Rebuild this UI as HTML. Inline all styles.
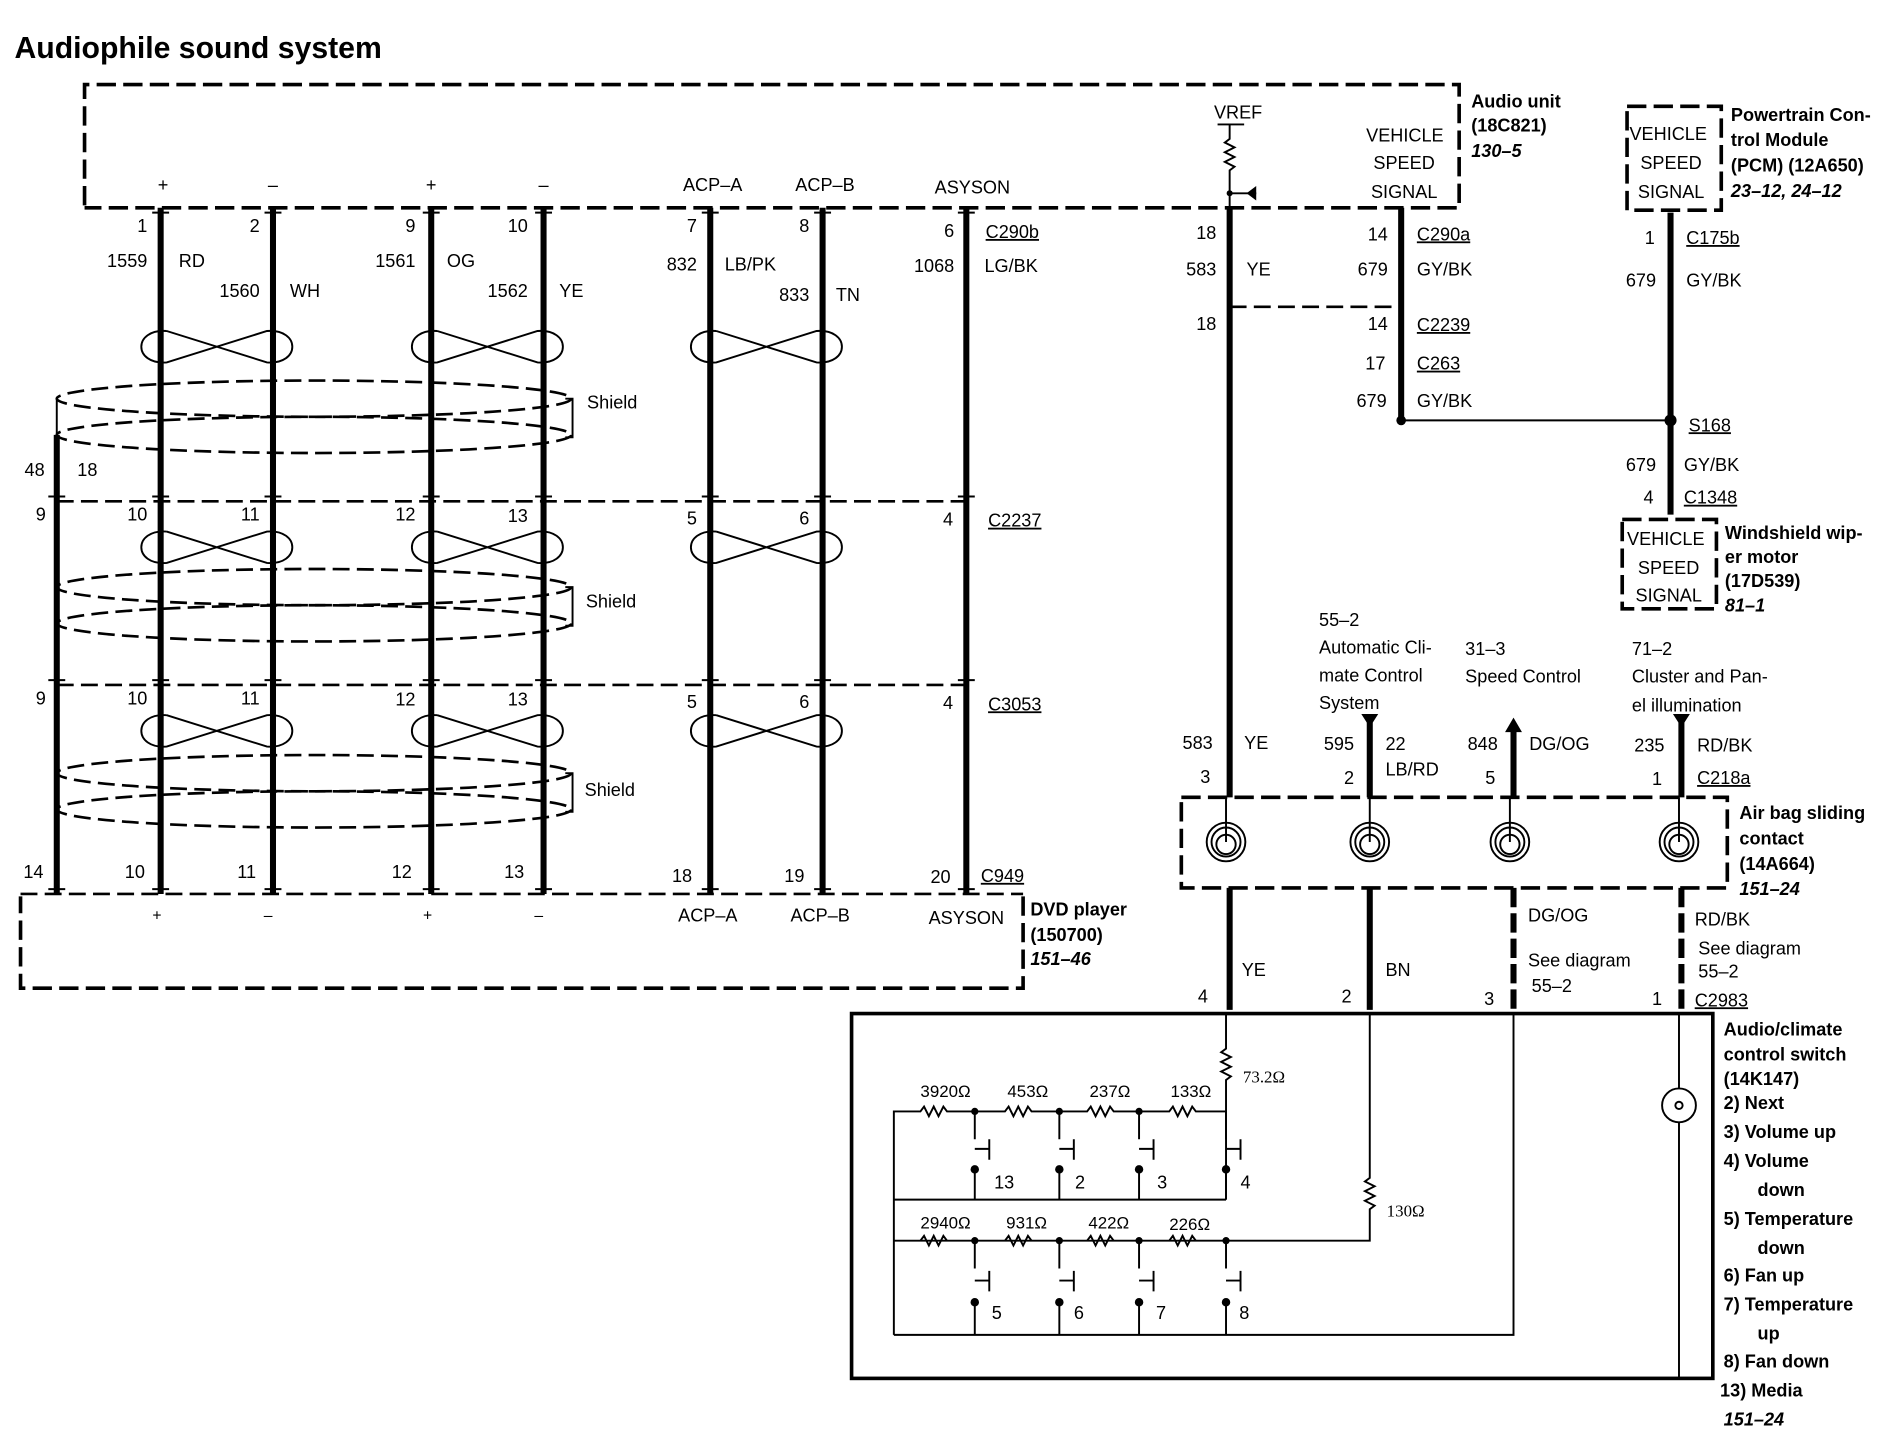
<!DOCTYPE html>
<html><head><meta charset="utf-8"><style>
html,body{margin:0;padding:0;background:#fff;}
svg{display:block;}
text{font-family:"Liberation Sans",Arial,sans-serif;font-size:15px;fill:#000;}
.b{font-weight:bold;}
.i{font-weight:bold;font-style:italic;}
.w{stroke:#000;stroke-width:5;fill:none;}
.t{stroke:#000;stroke-width:1.6;fill:none;}
.d{stroke:#000;stroke-width:2.2;fill:none;stroke-dasharray:14,6;}
.db{stroke:#000;stroke-width:3;fill:none;stroke-dasharray:16,6;}
.u{text-decoration:underline;}
</style></head><body>
<svg width="1894" height="1440" viewBox="0 0 1568 1192" preserveAspectRatio="none" xmlns="http://www.w3.org/2000/svg">
<rect width="1568" height="1192" fill="#fff"/>
<text x="12" y="48" class="b" style="font-size:25px">Audiophile sound system</text>

<path class="db" d="M70,170 L70,70 L1208,70 L1208,172 L70,172"/>
<text x="1218" y="89" class="b">Audio unit</text>
<text x="1218" y="109" class="b">(18C821)</text>
<text x="1218" y="130" class="i">130–5</text>
<text x="1131" y="117">VEHICLE</text>
<text x="1137" y="140">SPEED</text>
<text x="1135" y="164">SIGNAL</text>
<text x="1005" y="98">VREF</text>
<path class="t" d="M1008,103 L1030,103 M1018,103 L1018,115 l-4,3 l8,4 l-8,4 l8,4 l-8,4 l8,4 l-4,3 L1018,172 M1018,160 L1040,160"/>
<path d="M1040,154 L1040,166 L1032,160 Z"/>
<circle cx="1018" cy="160" r="2.5"/>

<g text-anchor="middle">
<text x="135" y="158">+</text><text x="226" y="158">–</text><text x="357" y="158">+</text><text x="450" y="158">–</text>
<text x="590" y="158">ACP–A</text><text x="683" y="158">ACP–B</text><text x="805" y="160">ASYSON</text>
</g>

<path class="w" d="M133,172V740 M226,172V740 M357,172V740 M450,172V740 M588,172V740 M681,172V740 M800,172V740"/>
<path class="w" d="M47,360V740"/>
<path class="d" d="M47,415H800 M47,567H800 M17,740H847"/>
<path class="d" d="M1018,254H1160"/>
<g class="t" stroke-width="2">
<path d="M126,176h14 M219,176h14 M350,176h14 M443,176h14 M581,176h14 M674,176h14 M793,176h14"/>
<path d="M40,411h14 M126,411h14 M219,411h14 M350,411h14 M443,411h14 M581,411h14 M674,411h14 M793,411h14"/>
<path d="M40,563h14 M126,563h14 M219,563h14 M350,563h14 M443,563h14 M581,563h14 M674,563h14 M793,563h14"/>
<path d="M40,736h14 M126,736h14 M219,736h14 M350,736h14 M443,736h14 M581,736h14 M674,736h14 M793,736h14"/>
</g>

<g class="t" stroke-width="2.2">
<path d="M138,274 C110,272 110,302 138,300 L221,274 C249,272 249,302 221,300 L138,274"/>
<path d="M362,274 C334,272 334,302 362,300 L445,274 C473,272 473,302 445,300 L362,274"/>
<path d="M593,274 C565,272 565,302 593,300 L676,274 C704,272 704,302 676,300 L593,274"/>
<path d="M138,440 C110,438 110,468 138,466 L221,440 C249,438 249,468 221,466 L138,440"/>
<path d="M362,440 C334,438 334,468 362,466 L445,440 C473,438 473,468 445,466 L362,440"/>
<path d="M593,440 C565,438 565,468 593,466 L676,440 C704,438 704,468 676,466 L593,440"/>
<path d="M138,592 C110,590 110,620 138,618 L221,592 C249,590 249,620 221,618 L138,592"/>
<path d="M362,592 C334,590 334,620 362,618 L445,592 C473,590 473,620 445,618 L362,592"/>
<path d="M593,592 C565,590 565,620 593,618 L676,592 C704,590 704,620 676,618 L593,592"/>
</g>
<g class="d" stroke-width="2">
<ellipse cx="260" cy="330" rx="213" ry="15"/><ellipse cx="260" cy="360" rx="213" ry="15"/>
<ellipse cx="260" cy="486" rx="213" ry="15"/><ellipse cx="260" cy="516" rx="213" ry="15"/>
<ellipse cx="260" cy="640" rx="213" ry="15"/><ellipse cx="260" cy="670" rx="213" ry="15"/>
</g>
<path class="t" d="M47,330V360 M468,330H474V362H468 M47,486V516 M468,486H474V518H468 M47,640V670 M468,640H474V672H468"/>
<text x="486" y="338">Shield</text><text x="485" y="503">Shield</text><text x="484" y="659">Shield</text>

<g text-anchor="end">
<text x="122" y="192">1</text><text x="215" y="192">2</text><text x="344" y="192">9</text><text x="437" y="192">10</text>
<text x="577" y="192">7</text><text x="670" y="192">8</text><text x="790" y="196">6</text>
<text x="122" y="221">1559</text><text x="215" y="246">1560</text><text x="344" y="221">1561</text><text x="437" y="246">1562</text>
<text x="577" y="224">832</text><text x="670" y="249">833</text><text x="790" y="225">1068</text>
<text x="37" y="394">48</text><text x="38" y="431">9</text><text x="38" y="583">9</text><text x="36" y="727">14</text>
<text x="122" y="431">10</text><text x="215" y="431">11</text><text x="344" y="431">12</text><text x="437" y="432">13</text>
<text x="577" y="434">5</text><text x="670" y="434">6</text><text x="789" y="435">4</text>
<text x="122" y="583">10</text><text x="215" y="583">11</text><text x="344" y="584">12</text><text x="437" y="584">13</text>
<text x="577" y="586">5</text><text x="670" y="586">6</text><text x="789" y="587">4</text>
<text x="120" y="727">10</text><text x="212" y="727">11</text><text x="341" y="727">12</text><text x="434" y="727">13</text>
<text x="573" y="730">18</text><text x="666" y="730">19</text><text x="787" y="731">20</text>
</g>
<text x="148" y="221">RD</text><text x="240" y="246">WH</text><text x="370" y="221">OG</text><text x="463" y="246">YE</text>
<text x="600" y="224">LB/PK</text><text x="692" y="249">TN</text><text x="815" y="225">LG/BK</text>
<text x="64" y="394">18</text>
<text x="816" y="197" class="u">C290b</text><text x="818" y="436" class="u">C2237</text><text x="818" y="588" class="u">C3053</text><text x="812" y="730" class="u">C949</text>

<path class="db" d="M847,742 L847,818 L17,818 L17,742"/>
<g text-anchor="middle">
<text x="130" y="762" style="font-size:13px">+</text><text x="222" y="762" style="font-size:13px">–</text>
<text x="354" y="762" style="font-size:13px">+</text><text x="446" y="762" style="font-size:13px">–</text>
</g>
<g text-anchor="middle"><text x="586" y="763">ACP–A</text><text x="679" y="763">ACP–B</text><text x="800" y="765">ASYSON</text></g>
<text x="853" y="758" class="b">DVD player</text><text x="853" y="779" class="b">(150700)</text><text x="853" y="799" class="i">151–46</text>

<path class="w" d="M1018,172V660 M1160,172V346 M1383,176V426"/>
<path class="t" d="M1160,348H1383"/>
<circle cx="1160" cy="348" r="4"/><circle cx="1383" cy="348" r="5"/>
<g text-anchor="end">
<text x="1007" y="198">18</text><text x="1007" y="228">583</text><text x="1149" y="199">14</text><text x="1149" y="228">679</text>
<text x="1007" y="273">18</text><text x="1149" y="273">14</text><text x="1147" y="306">17</text><text x="1148" y="337">679</text>
<text x="1370" y="202">1</text><text x="1371" y="237">679</text><text x="1371" y="390">679</text><text x="1369" y="417">4</text>
</g>
<text x="1032" y="228">YE</text><text x="1173" y="199" class="u">C290a</text><text x="1173" y="228">GY/BK</text>
<text x="1173" y="274" class="u">C2239</text><text x="1173" y="306" class="u">C263</text><text x="1173" y="337">GY/BK</text>
<text x="1396" y="202" class="u">C175b</text><text x="1396" y="237">GY/BK</text><text x="1398" y="357" class="u">S168</text>
<text x="1394" y="390">GY/BK</text><text x="1394" y="417" class="u">C1348</text>

<path class="db" d="M1347,88H1425V174H1347Z"/>
<text x="1349" y="116">VEHICLE</text><text x="1358" y="140">SPEED</text><text x="1356" y="164">SIGNAL</text>
<text x="1433" y="100" class="b">Powertrain Con-</text><text x="1433" y="121" class="b">trol Module</text>
<text x="1433" y="142" class="b">(PCM) (12A650)</text><text x="1433" y="163" class="i">23–12, 24–12</text>
<path class="db" d="M1343,430H1421V504H1343Z"/>
<text x="1347" y="451">VEHICLE</text><text x="1356" y="475">SPEED</text><text x="1354" y="498">SIGNAL</text>
<text x="1428" y="446" class="b">Windshield wip-</text><text x="1428" y="466" class="b">er motor</text>
<text x="1428" y="486" class="b">(17D539)</text><text x="1428" y="506" class="i">81–1</text>

<text x="1092" y="518">55–2</text><text x="1092" y="541">Automatic Cli-</text><text x="1092" y="564">mate Control</text><text x="1092" y="587">System</text>
<text x="1213" y="542">31–3</text><text x="1213" y="565">Speed Control</text>
<text x="1351" y="542">71–2</text><text x="1351" y="565">Cluster and Pan-</text><text x="1351" y="589">el illumination</text>

<path class="w" d="M1134,598V660 M1253,604V660 M1392,598V660"/>
<path d="M1127,591H1141L1134,602Z M1246,606H1260L1253,594Z M1385,591H1399L1392,602Z"/>
<g text-anchor="end">
<text x="1004" y="620">583</text><text x="1002" y="648">3</text><text x="1121" y="621">595</text><text x="1121" y="649">2</text>
<text x="1240" y="621">848</text><text x="1238" y="649">5</text><text x="1378" y="622">235</text><text x="1376" y="650">1</text>
</g>
<text x="1030" y="620">YE</text><text x="1147" y="621">22</text><text x="1147" y="642">LB/RD</text>
<text x="1266" y="621">DG/OG</text><text x="1405" y="622">RD/BK</text><text x="1405" y="649" class="u">C218a</text>

<path class="db" d="M978,660H1430V735H978Z"/>
<g class="t" stroke-width="1.8">
<path d="M1015,660V697 M1134,660V697 M1250,660V697 M1390,660V697"/>
<circle cx="1015" cy="697" r="16"/><circle cx="1015" cy="697" r="12"/><circle cx="1015" cy="699" r="8"/>
<circle cx="1134" cy="697" r="16"/><circle cx="1134" cy="697" r="12"/><circle cx="1134" cy="699" r="8"/>
<circle cx="1250" cy="697" r="16"/><circle cx="1250" cy="697" r="12"/><circle cx="1250" cy="699" r="8"/>
<circle cx="1390" cy="697" r="16"/><circle cx="1390" cy="697" r="12"/><circle cx="1390" cy="699" r="8"/>
</g>
<text x="1440" y="678" class="b">Air bag sliding</text><text x="1440" y="699" class="b">contact</text>
<text x="1440" y="720" class="b">(14A664)</text><text x="1440" y="741" class="i">151–24</text>

<path class="w" d="M1018,735V836 M1134,735V836"/>
<path class="w" style="stroke-dasharray:16,5" d="M1253,735V836 M1392,735V836"/>
<text x="1028" y="808">YE</text><text x="1147" y="808">BN</text>
<text x="1265" y="763">DG/OG</text><text x="1265" y="800">See diagram</text><text x="1268" y="821">55–2</text>
<text x="1403" y="766">RD/BK</text><text x="1406" y="790">See diagram</text><text x="1406" y="809">55–2</text>
<g text-anchor="end"><text x="1000" y="830">4</text><text x="1119" y="830">2</text><text x="1237" y="832">3</text><text x="1376" y="832">1</text></g>
<text x="1403" y="833" class="u">C2983</text>

<rect x="705" y="839" width="713" height="302" fill="none" stroke="#000" stroke-width="3"/>
<g class="t">
<path d="M1015,839V868 l-4,3 l8,4 l-8,4 l8,4 l-8,4 l8,4 l-4,3 V993"/>
<path d="M1134,839V975 l-4,3 l8,4 l-8,4 l8,4 l-8,4 l8,4 l-4,3 V1027 H740"/>
<path d="M740,1105V920H762 l3,-4 l4,8 l4,-8 l4,8 l4,-8 l3,4 H832 l3,-4 l4,8 l4,-8 l4,8 l4,-8 l3,4 H900 l3,-4 l4,8 l4,-8 l4,8 l4,-8 l3,4 H968 l3,-4 l4,8 l4,-8 l4,8 l4,-8 l3,4 H1015"/>
<path d="M762,1027 l3,-4 l4,8 l4,-8 l4,8 l4,-8 l3,4 M832,1027 l3,-4 l4,8 l4,-8 l4,8 l4,-8 l3,4 M900,1027 l3,-4 l4,8 l4,-8 l4,8 l4,-8 l3,4 M968,1027 l3,-4 l4,8 l4,-8 l4,8 l4,-8 l3,4"/>
<path d="M740,993H1015 M740,1105H1253V839 M1390,839V901 M1390,929V1141"/>
<circle cx="1390" cy="915" r="14"/><circle cx="1390" cy="915" r="3"/>
<path d="M807,920V943 M807,968V993 M819,943V960 M807,951H819"/>
<path d="M877,920V943 M877,968V993 M889,943V960 M877,951H889"/>
<path d="M943,920V943 M943,968V993 M955,943V960 M943,951H955"/>
<path d="M1015,920V943 M1015,968V993 M1027,943V960 M1015,951H1027"/>
<path d="M807,1027V1050 M807,1078V1105 M819,1052V1069 M807,1060H819"/>
<path d="M877,1027V1050 M877,1078V1105 M889,1052V1069 M877,1060H889"/>
<path d="M943,1027V1050 M943,1078V1105 M955,1052V1069 M943,1060H955"/>
<path d="M1015,1027V1050 M1015,1078V1105 M1027,1052V1069 M1015,1060H1027"/>
</g>
<g>
<circle cx="807" cy="920" r="3"/><circle cx="877" cy="920" r="3"/><circle cx="943" cy="920" r="3"/>
<circle cx="807" cy="968" r="3.5"/><circle cx="877" cy="968" r="3.5"/><circle cx="943" cy="968" r="3.5"/><circle cx="1015" cy="968" r="3.5"/>
<circle cx="807" cy="1027" r="3"/><circle cx="877" cy="1027" r="3"/><circle cx="943" cy="1027" r="3"/><circle cx="1015" cy="1027" r="3"/>
<circle cx="807" cy="1078" r="3.5"/><circle cx="877" cy="1078" r="3.5"/><circle cx="943" cy="1078" r="3.5"/><circle cx="1015" cy="1078" r="3.5"/>
</g>
<text x="762" y="908" style="font-size:14px">3920Ω</text><text x="834" y="908" style="font-size:14px">453Ω</text>
<text x="902" y="908" style="font-size:14px">237Ω</text><text x="969" y="908" style="font-size:14px">133Ω</text>
<text x="762" y="1017" style="font-size:14px">2940Ω</text><text x="833" y="1017" style="font-size:14px">931Ω</text>
<text x="901" y="1017" style="font-size:14px">422Ω</text><text x="968" y="1018" style="font-size:14px">226Ω</text>
<text x="1029" y="896" style="font-size:14px;font-family:'Liberation Serif',serif">73.2Ω</text>
<text x="1148" y="1007" style="font-size:14px;font-family:'Liberation Serif',serif">130Ω</text>
<text x="823" y="984">13</text><text x="890" y="984">2</text><text x="958" y="984">3</text><text x="1027" y="984">4</text>
<text x="821" y="1092">5</text><text x="889" y="1092">6</text><text x="957" y="1092">7</text><text x="1026" y="1092">8</text>

<text x="1427" y="857" class="b">Audio/climate</text><text x="1427" y="878" class="b">control switch</text>
<text x="1427" y="898" class="b">(14K147)</text>
<text x="1427" y="918" class="b">2)  Next</text><text x="1427" y="942" class="b">3)  Volume up</text>
<text x="1427" y="966" class="b">4)  Volume</text><text x="1455" y="990" class="b">down</text>
<text x="1427" y="1014" class="b">5)  Temperature</text><text x="1455" y="1038" class="b">down</text>
<text x="1427" y="1061" class="b">6)  Fan up</text><text x="1427" y="1085" class="b">7)  Temperature</text>
<text x="1455" y="1109" class="b">up</text><text x="1427" y="1132" class="b">8)  Fan down</text>
<text x="1424" y="1156" class="b">13) Media</text><text x="1427" y="1180" class="i">151–24</text>
</svg>
</body></html>
